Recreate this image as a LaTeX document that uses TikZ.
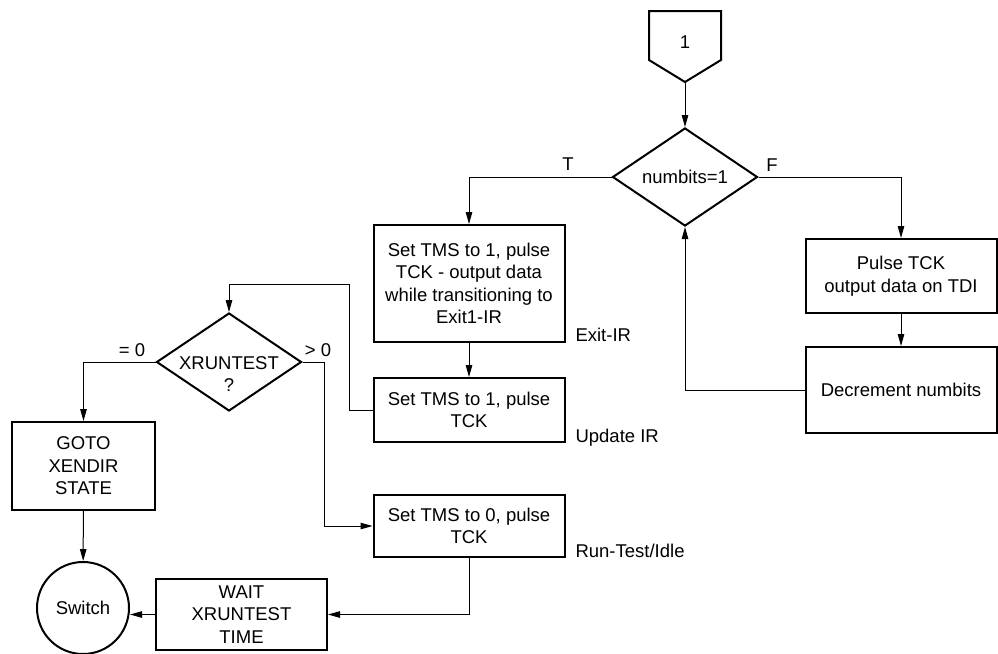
\documentclass[tikz,border=0pt]{standalone}
\usepackage{fontspec}
\setmainfont{Liberation Sans}
\usetikzlibrary{shapes, positioning}
\usetikzlibrary{arrows.meta}

\begin{document}
\begin{tikzpicture}[x=1pt,y=-1pt,
    every node/.style={font=\fontsize{18.5}{22.5}\selectfont},
    block/.style={draw,line width=2pt,align=center,inner sep=0pt,minimum width=191pt},
    decision/.style={diamond,draw,line width=2pt,inner sep=0pt,aspect=1.45,minimum width=145pt,minimum height=98pt},
    flow/.style={line width=1pt,-{Triangle[length=12pt,width=6.5pt]}}]
    \useasboundingbox (0,0) rectangle (998,653);
    % off-page connector
    \draw[line width=2pt] (649,11) -- (721,11) -- (721,60) -- (685,82) -- (649,60) -- cycle;
    \node (one) at (685,42) {1};
    \coordinate (onetip) at (685,82);
    % shift loop
    \node[decision] (numbits) at (685,177) {numbits=1};
    \node[block,minimum height=117pt] (exitone) at (469,283.5) {Set TMS to 1, pulse\\TCK - output data\\while transitioning to\\Exit1-IR};
    \node[block,minimum height=74pt] (pulse) at (901,276) {Pulse TCK\\output data on TDI};
    \node[block,minimum height=86pt] (decr) at (901,390) {Decrement numbits};
    \node[block,minimum height=64pt] (update) at (469,410) {Set TMS to 1, pulse\\TCK};
    \node[block,minimum height=62pt] (runtest) at (469,526) {Set TMS to 0, pulse\\TCK};
    % xruntest branch
    \node[decision] (xrun) at (229,362) {};
    \node[align=center] (xruntxt) at (229,374) {XRUNTEST\\?};
    \node[block,minimum width=143pt,minimum height=88pt] (gotoend) at (83.5,466) {GOTO\\XENDIR\\STATE};
    \node[block,minimum width=171pt,minimum height=71pt] (wait) at (241.5,614.5) {WAIT\\XRUNTEST\\TIME};
    \node[circle,draw,line width=2pt,inner sep=0pt,minimum size=92pt] (switch) at (83,608) {Switch};
    % labels
    \node (tlab) at (568,164) {T};
    \node (flab) at (772,165) {F};
    \node (gtlab) at (318,350) {> 0};
    \node (eqlab) at (132,350) {= 0};
    \node[right] (exitlab) at (572,335) {Exit-IR};
    \node[right] (updlab) at (572,438) {Update IR};
    \node[right] (runlab) at (572,551) {Run-Test/Idle};
    % connectors
    \coordinate (loop) at (349,284);
    \coordinate (gtzero) at (324,526);
    \draw[flow] (onetip) -- (numbits.north);
    \draw[flow] (numbits.west) -| (exitone.north);
    \draw[flow] (numbits.east) -| (pulse.north);
    \draw[flow] (pulse) -- (decr);
    \draw[flow] (decr.west) -| (numbits.south);
    \draw[flow] (exitone) -- (update);
    \draw[flow] (update.west) -| (loop) -| (xrun.north);
    \draw[flow] (xrun.east) -| (gtzero) -- (runtest.west);
    \draw[flow] (xrun.west) -| (gotoend.north);
    \draw[flow] (gotoend) -- (switch);
    \draw[flow] (runtest.south) |- (wait.east);
    \draw[flow] (wait.west) -- (wait.west -| switch.east);
\end{tikzpicture}
\end{document}
